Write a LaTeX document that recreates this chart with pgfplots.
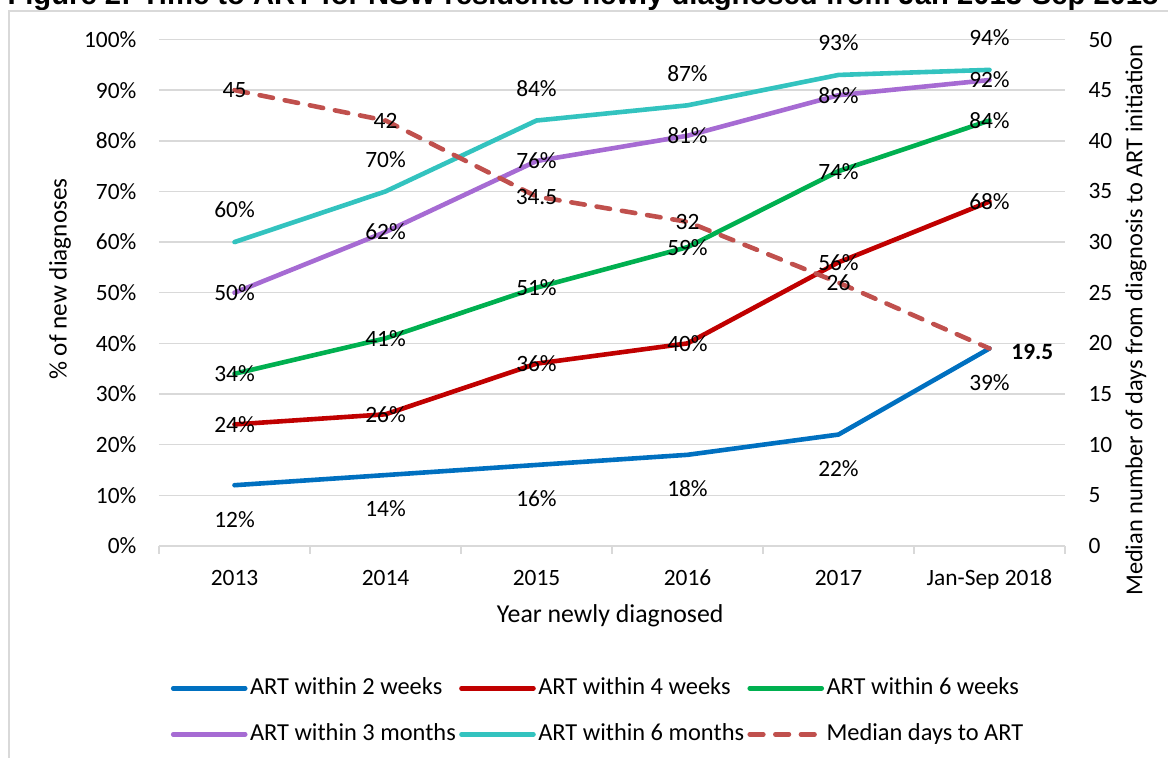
\documentclass[border=0pt]{standalone}
\usepackage{fontspec}
\setmainfont{Carlito}
\newfontfamily\titlefont{Liberation Sans}
\usepackage{pgfplots}
\usepackage{pgfplotstable}
\pgfplotsset{compat=1.18}
\definecolor{c2w}{HTML}{0070C0}
\definecolor{c4w}{HTML}{C00000}
\definecolor{c6w}{HTML}{00B050}
\definecolor{c3m}{HTML}{A66BD3}
\definecolor{c6m}{HTML}{33C3BF}
\definecolor{cmed}{HTML}{C0504D}
\definecolor{gridgray}{HTML}{D9D9D9}

\pgfplotstableread{
x w2 w4 w6 m3 m6 med
0 12 24 34 50 60 45
1 14 26 41 62 70 42
2 16 36 51 76 84 34.5
3 18 40 59 81 87 32
4 22 56 74 89 93 26
5 39 68 84 92 94 19.5
}\arttable

\pgfplotsset{
  ser/.style={line width=2.3pt, line cap=round, line join=round, mark=none},
  s2w/.style={ser, color=c2w},
  s4w/.style={ser, color=c4w},
  s6w/.style={ser, color=c6w},
  s3m/.style={ser, color=c3m},
  s6m/.style={ser, color=c6m},
  smed/.style={line width=2.3pt, line cap=round, color=cmed, dash pattern=on 6.8pt off 6pt, mark=none},
  pctlbl/.style={nodes near coords={\pgfmathprintnumber{\pgfplotspointmeta}\%}, point meta=y,
     every node near coord/.append style={anchor=center, text=black, #1}},
  pctlbl/.default={},
  common/.style={
    scale only axis, width=453pt, height=253.25pt, at={(0,0)}, anchor=south west,
    xmin=-0.5, xmax=5.5, clip=false,
    /pgf/number format/assume math mode=true,
    legend image code/.code={\draw[##1] (0pt,0pt) -- (36pt,0pt);},
  },
}

\begin{document}
\fontsize{11.7}{14}\selectfont
\begin{tikzpicture}
\begin{axis}[common,
  ymin=0, ymax=100, ytick={0,10,...,100},
  yticklabel={\pgfmathprintnumber{\tick}\%},
  axis x line*=bottom, axis y line*=left, axis line style={-},
  x axis line style={draw=gridgray, line width=1pt},
  y axis line style={draw=none},
  ytick style={draw=none},
  major tick length=0pt, minor tick length=4pt,
  xtick={0,1,2,3,4,5},
  xticklabels={2013,2014,2015,2016,2017,Jan-Sep 2018},
  minor xtick={-0.5,0.5,1.5,2.5,3.5,4.5,5.5},
  xtick align=outside,
  minor x tick style={draw=gridgray, line width=0.75pt},
  major x tick style={draw=none},
  ymajorgrids, major grid style={draw=gridgray, line width=0.75pt},
  xticklabel style={anchor=base, yshift=-19.6pt},
  yticklabel style={anchor=east, xshift=-7.2pt},
  xlabel={Year newly diagnosed},
  ylabel={\% of new diagnoses},
  every axis x label/.style={at={(axis description cs:0.498,-0.138)}, anchor=center, font=\fontsize{12.9}{15}\selectfont},
  every axis y label/.style={at={(axis description cs:-0.1093,0.527)}, rotate=90, anchor=center, font=\fontsize{12.6}{15}\selectfont},
]
\addplot[s2w, pctlbl={yshift=-17pt}] table[x=x,y=w2]{\arttable};
\addplot[s4w, pctlbl] table[x=x,y=w4]{\arttable};
\addplot[s6w, pctlbl] table[x=x,y=w6]{\arttable};
\addplot[s3m, pctlbl] table[x=x,y=m3]{\arttable};
\addplot[s6m, pctlbl={yshift=16pt}] table[x=x,y=m6]{\arttable};
\end{axis}

\begin{axis}[common,
  ymin=0, ymax=50, ytick={0,5,...,50},
  axis y line*=right, axis x line=none, axis line style={-},
  y axis line style={draw=none},
  ytick style={draw=none}, major tick length=0pt,
  yticklabel style={anchor=west, xshift=7.7pt},
  ylabel={Median number of days from diagnosis to ART initiation},
  every axis y label/.style={at={(axis description cs:1.0784,0.446)}, rotate=90, anchor=center, font=\fontsize{12.2}{15}\selectfont},
  legend columns=3,
  legend cell align=left,
  legend style={draw=none, fill=none, inner xsep=0pt, inner ysep=0pt,
    at={(axis description cs:0.0127,-0.2537)}, anchor=north west,
    font=\fontsize{12.2}{14}\selectfont,
    nodes={inner sep=1.25pt, text height=8.5pt, text depth=2.5pt},
    /tikz/every even column/.append style={column sep=0.4pt},
    row sep=9.5pt},
]
\addlegendimage{s2w}\addlegendentry{ART within 2 weeks}
\addlegendimage{s4w}\addlegendentry{ART within 4 weeks}
\addlegendimage{s6w}\addlegendentry{ART within 6 weeks}
\addlegendimage{s3m}\addlegendentry{ART within 3 months}
\addlegendimage{s6m}\addlegendentry{ART within 6 months}
\addplot[smed] table[x=x,y=med]{\arttable};
\addlegendentry{Median days to ART}
\addplot[draw=none, mark=none, forget plot, restrict x to domain=-0.1:4.1,
  nodes near coords, point meta=y,
  every node near coord/.append style={anchor=center, text=black}]
  table[x=x,y=med]{\arttable};
\addplot[draw=none, mark=none, forget plot, restrict x to domain=4.9:5.1,
  nodes near coords={\textbf{\pgfmathprintnumber{\pgfplotspointmeta}}}, point meta=y,
  every node near coord/.append style={anchor=west, text=black, xshift=6.9pt, yshift=-1.8pt}]
  table[x=x,y=med]{\arttable};
\end{axis}

\node[anchor=base, font=\titlefont\bfseries\fontsize{14.6}{17}\selectfont]
  at (212pt,270.5pt) {Figure 2: Time to ART for NSW residents newly diagnosed from Jan 2013-Sep 2018};
\draw[gridgray, line width=0.75pt] (-75pt,-130pt) -- (-75pt,267.5pt) -- (530pt,267.5pt);

\pgfresetboundingbox
\useasboundingbox (-79.5pt,-106pt) rectangle (504.5pt,273pt);
\end{tikzpicture}
\end{document}
